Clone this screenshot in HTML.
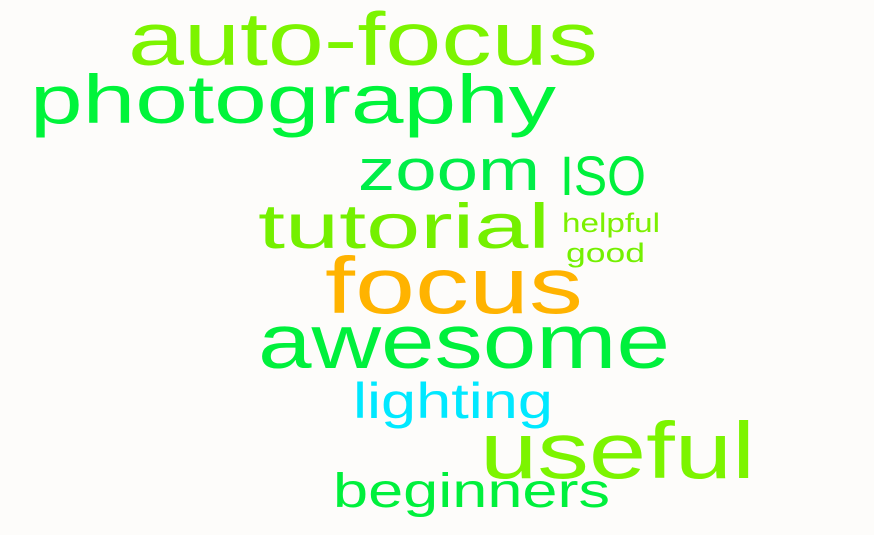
<!DOCTYPE html>
<html><head><meta charset="utf-8"><style>
html,body{margin:0;padding:0;background:#fdfcfa;}
svg{display:block;}
text{font-family:"Liberation Sans",sans-serif;}
</style></head><body>
<svg id="cloud" width="874" height="535" viewBox="0 0 874 535"></svg>
<script>
const words = ["auto-focus","photography","zoom","ISO","tutorial","helpful","good","focus","awesome","lighting","useful","beginners"];
const weights = [45,41,35,40,38,16,16,48,46,30,48,29];
const colors = ["#7cf400","#00f43a","#00ee48","#00f03c","#74f000","#7cf000","#74f000","#ffb300","#00f03c","#00e8ff","#7cf400","#00f03c"];
const layoutX = [128,30,358,560,258,562,566,325,258,353,480,333];
const layoutW = [470,526,182,86,292,98,79,258,412,200,275,277];
const layoutY = [65,123,190,195,248,232,262,313,368,418,478,507];
const svg = document.getElementById('cloud');
const NS = 'http://www.w3.org/2000/svg';
for (let i = 0; i < words.length; i++) {
  const t = document.createElementNS(NS, 'text');
  
  
  const fs = words[i] === 'ISO' ? weights[i] / 0.72 : weights[i] / 0.6;
  t.setAttribute('x', layoutX[i]);
  t.setAttribute('y', layoutY[i]);
  t.setAttribute('font-size', fs.toFixed(1));
  t.setAttribute('fill', colors[i]);
  t.setAttribute('textLength', layoutW[i]);
  t.setAttribute('lengthAdjust', 'spacingAndGlyphs');
  t.textContent = words[i];
  svg.appendChild(t);
}
</script>
</body></html>
